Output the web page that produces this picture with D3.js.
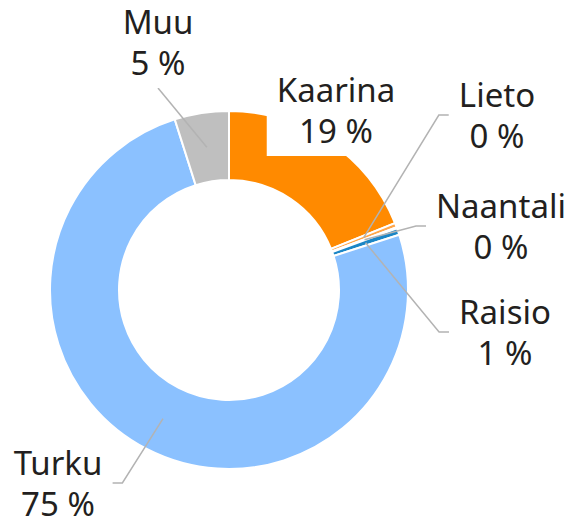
<!DOCTYPE html>
<html>
<head>
<meta charset="utf-8">
<script src="https://cdn.jsdelivr.net/npm/d3@7"></script>
<style>
  body { margin: 0; background: #fff; }
  text { font-family: "Noto Sans", sans-serif; fill: #231f20; }
</style>
</head>
<body>
<svg id="chart" width="575" height="521"></svg>
<script>
// shares of the whole
const names = ['Kaarina', 'Lieto', 'Naantali', 'Raisio', 'Turku', 'Muu']
const values = [18.9, 0.4, 0.1, 0.6, 75.1, 4.9]
const colors = ['#ff8a00', '#ffa64a', '#f59a9a', '#1b86c6', '#8bc1ff', '#bfbfbf']

// label placement: text centre x, first baseline, where the leader meets the box
const labelX = [336, 497, 501, 505, 58, 158]
const labelY = [102, 107, 218, 324, 475, 34]
const leaderTo = ['none', 'left', 'left', 'left', 'right', 'bottom']

const width = 575, height = 521
const cx = 229, cy = 290
const outerR = 179, innerR = 110
const lineGap = 41

const svg = d3.select('#chart')
const g = svg.append('g').attr('transform', `translate(${cx},${cy})`)

const pie = d3.pie().sort(null).value(d => d.value)
const arc = d3.arc().innerRadius(innerR).outerRadius(outerR)
const midArc = d3.arc().innerRadius((innerR + outerR) / 2).outerRadius((innerR + outerR) / 2)

const data = names.map((n, i) => ({
    name: n, value: values[i], color: colors[i],
    lx: labelX[i], ly: labelY[i], to: leaderTo[i]
}))
const arcs = pie(data)

g.selectAll('.slice')
    .data(arcs)
    .join('path')
    .attr('class', 'slice')
    .attr('d', arc)
    .attr('fill', d => d.data.color)
    .attr('stroke', '#fff')
    .attr('stroke-width', 2)
    .attr('stroke-linejoin', 'miter')

const lines = svg.append('g')
const labels = svg.append('g')

arcs.forEach(function (d) {
    let lg = labels.append('g')
    let box = lg.append('rect').attr('fill', '#fff')
    let t = lg.append('text')
        .attr('text-anchor', 'middle')
        .style('font-size', '33px')
    t.append('tspan').attr('x', d.data.lx).attr('y', d.data.ly).text(d.data.name)
    t.append('tspan').attr('x', d.data.lx).attr('y', d.data.ly + lineGap)
        .text(d3.format('.0f')(d.data.value) + ' %')
    let bb = t.node().getBBox()
    let padX = 10, padY = 3
    let b = { x: bb.x - padX, y: bb.y - padY, w: bb.width + 2 * padX, h: bb.height + 2 * padY }
    box.attr('x', b.x).attr('y', b.y).attr('width', b.w).attr('height', b.h)

    if (d.data.to === 'none') return
    let c = midArc.centroid(d)
    let start = [cx + c[0], cy + c[1]]
    let pts
    if (d.data.to === 'left') {
        let end = [b.x, b.y + b.h / 2]
        pts = [start, [end[0] - 10, end[1]], end]
    } else if (d.data.to === 'right') {
        let end = [b.x + b.w, b.y + b.h / 2]
        pts = [start, [end[0] + 10, end[1]], end]
    } else {
        pts = [start, [d.data.lx, b.y + b.h]]
    }
    lines.append('path')
        .attr('d', d3.line()(pts))
        .attr('fill', 'none')
        .attr('stroke', '#b3b3b3')
        .attr('stroke-width', 1.5)
})
</script>
</body>
</html>
